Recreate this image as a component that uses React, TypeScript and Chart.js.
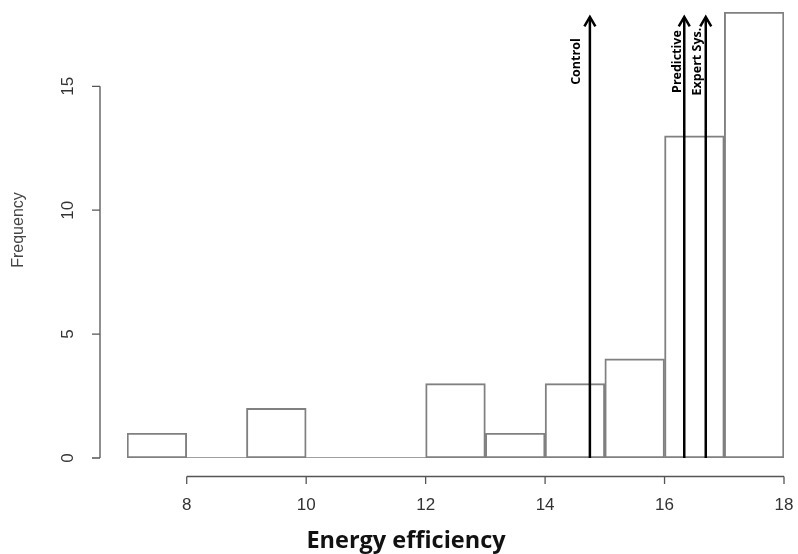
import React, { useEffect, useRef } from "react";
import { Chart, registerables } from "chart.js";

Chart.register(...registerables);

// ---- data ----
const binStarts = [7, 8, 9, 10, 11, 12, 13, 14, 15, 16, 17];
const frequencies = [1, 0, 2, 0, 0, 3, 1, 3, 4, 13, 18];
const xTickValues = [8, 10, 12, 14, 16, 18];
const yTickValues = [0, 5, 10, 15];
const markerLabels = ["Control", "Predictive", "Expert Sys."];
const markerValues = [14.75, 16.33, 16.69];
const markerTop = 17.8;
const markerLabelCenter = 16;
const xTitle = "Energy efficiency";
const yTitle = "Frequency";

// ---- styles ----
const markerLabelOffsets = [-13, -7, -8];
const AXIS_COLOR = "#555";
const TEXT_COLOR = "#333";

const rAxesPlugin = {
  id: "rAxes",
  afterDraw(chart: any) {
    const { ctx, chartArea, scales } = chart;
    const x = scales.x;
    const y = scales.y;
    ctx.save();
    ctx.strokeStyle = AXIS_COLOR;
    ctx.lineWidth = 1.3;
    ctx.fillStyle = TEXT_COLOR;

    // x axis (detached, R style)
    const axY = y.getPixelForValue(0) + 18.5;
    const x0 = x.getPixelForValue(xTickValues[0]);
    const x1 = x.getPixelForValue(xTickValues[xTickValues.length - 1]);
    ctx.beginPath();
    ctx.moveTo(x0, axY);
    ctx.lineTo(x1, axY);
    xTickValues.forEach((v) => {
      const px = x.getPixelForValue(v);
      ctx.moveTo(px, axY);
      ctx.lineTo(px, axY + 7.5);
    });
    ctx.stroke();
    ctx.font = "17px 'Liberation Sans', Arial, sans-serif";
    ctx.textAlign = "center";
    ctx.textBaseline = "middle";
    xTickValues.forEach((v) => {
      ctx.fillText(String(v), x.getPixelForValue(v), axY + 29);
    });

    // y axis
    const axX = chartArea.left - 27;
    const yA = y.getPixelForValue(yTickValues[0]);
    const yB = y.getPixelForValue(yTickValues[yTickValues.length - 1]);
    ctx.beginPath();
    ctx.moveTo(axX, yA);
    ctx.lineTo(axX, yB);
    yTickValues.forEach((v) => {
      const py = y.getPixelForValue(v);
      ctx.moveTo(axX, py);
      ctx.lineTo(axX - 8, py);
    });
    ctx.stroke();
    yTickValues.forEach((v) => {
      const py = y.getPixelForValue(v);
      ctx.save();
      ctx.translate(axX - 32, py);
      ctx.rotate(-Math.PI / 2);
      ctx.fillText(String(v), 0, 0);
      ctx.restore();
    });

    // y title
    ctx.save();
    ctx.translate(19, 230);
    ctx.rotate(-Math.PI / 2);
    ctx.font = "16px 'Liberation Sans', Arial, sans-serif";
    ctx.fillStyle = "#444";
    ctx.fillText(yTitle, 0, 0);
    ctx.restore();

    // x title
    ctx.font = "bold 23.5px 'Open Sans', sans-serif";
    ctx.fillStyle = "#111";
    ctx.fillText(xTitle, 406, 541);

    ctx.restore();
  },
  afterDatasetsDraw(chart: any) {
    const { ctx, scales } = chart;
    const x = scales.x;
    const y = scales.y;
    ctx.save();
    ctx.strokeStyle = "#000";
    ctx.fillStyle = "#000";
    ctx.lineWidth = 2.5;
    ctx.lineCap = "butt";
    const yBase = y.getPixelForValue(0);
    const yTip = y.getPixelForValue(markerTop);
    markerValues.forEach((v, i) => {
      const px = x.getPixelForValue(v);
      ctx.beginPath();
      ctx.moveTo(px, yBase);
      ctx.lineTo(px, yTip + 1);
      ctx.stroke();
      ctx.beginPath();
      ctx.moveTo(px - 5.5, yTip + 9.5);
      ctx.lineTo(px, yTip);
      ctx.lineTo(px + 5.5, yTip + 9.5);
      ctx.stroke();

      const ly = y.getPixelForValue(markerLabelCenter);
      ctx.save();
      ctx.translate(px + markerLabelOffsets[i], ly);
      ctx.rotate(-Math.PI / 2);
      ctx.font = "bold 12.5px 'Open Sans', sans-serif";
      ctx.textAlign = "center";
      ctx.textBaseline = "middle";
      ctx.fillText(markerLabels[i], 0, 0);
      ctx.restore();
    });
    ctx.restore();
  },
};

export default function App() {
  const canvasRef = useRef<HTMLCanvasElement | null>(null);

  useEffect(() => {
    if (!canvasRef.current) return;
    const chart = new Chart(canvasRef.current, {
      type: "bar",
      data: {
        datasets: [
          {
            type: "bar",
            data: binStarts.map((s, i) => ({ x: s + 0.5, y: frequencies[i] })),
            backgroundColor: "rgba(255,255,255,0)",
            borderColor: "#808080",
            borderWidth: 1.3,
            borderSkipped: false,
            barPercentage: 1,
            categoryPercentage: 1,
          },
          {
            type: "line",
            data: [
              { x: binStarts[0], y: 0 },
              { x: binStarts[binStarts.length - 1] + 1, y: 0 },
            ],
            borderColor: "#808080",
            borderWidth: 1.3,
            pointRadius: 0,
          },
        ] as any,
      },
      options: {
        animation: false,
        responsive: false,
        events: [],
        layout: { padding: { left: 127, right: 14, top: 12, bottom: 96 } },
        plugins: { legend: { display: false }, tooltip: { enabled: false } },
        scales: {
          x: { type: "linear", min: 7, max: 18, offset: false, display: false },
          y: { type: "linear", min: 0, max: 18, display: false },
        },
      },
      plugins: [rAxesPlugin],
    });
    return () => chart.destroy();
  }, []);

  return (
    <div style={{ position: "fixed", left: 0, top: 0, width: 798, height: 554, background: "#fff" }}>
      <canvas ref={canvasRef} width={798} height={554} style={{ width: 798, height: 554 }} />
    </div>
  );
}
